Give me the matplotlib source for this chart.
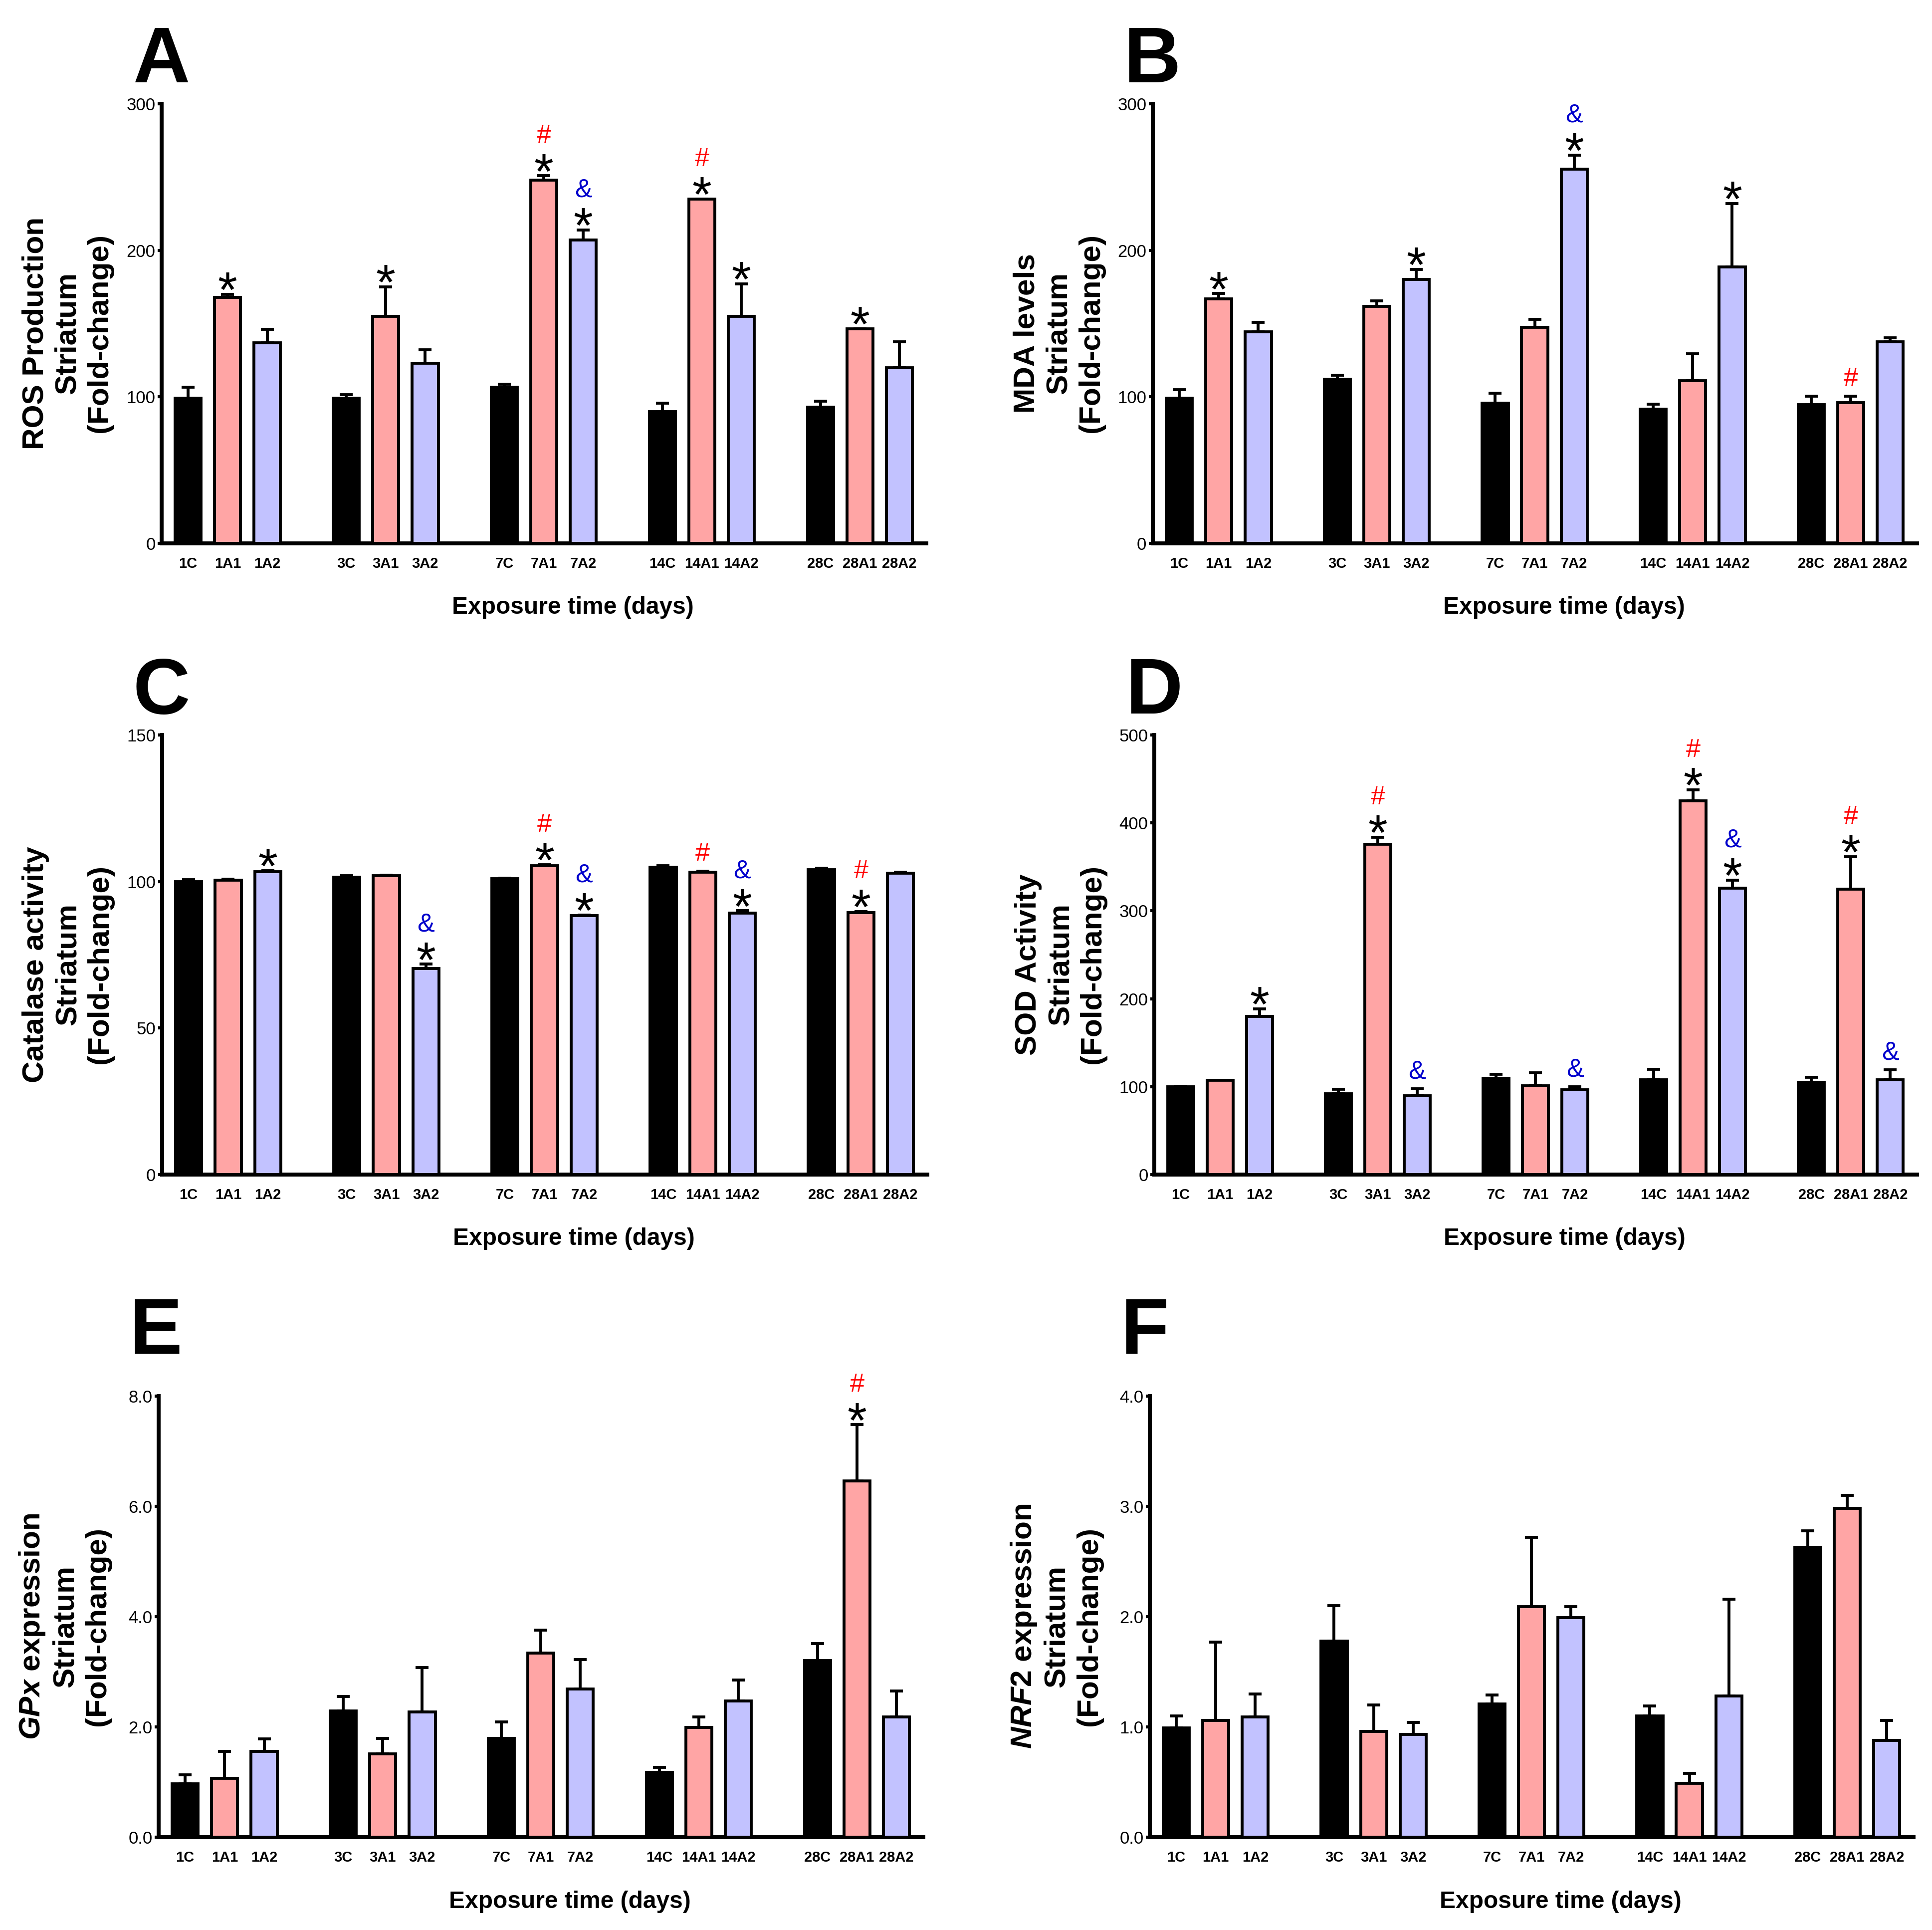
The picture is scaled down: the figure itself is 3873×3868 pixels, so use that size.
import matplotlib
matplotlib.use("Agg")
import matplotlib.pyplot as plt
import numpy as np

plt.rcParams['font.family'] = ['Liberation Sans', 'DejaVu Sans']
plt.rcParams['mathtext.fontset'] = 'custom'
plt.rcParams['mathtext.it'] = 'Liberation Sans:italic:bold'
plt.rcParams['mathtext.rm'] = 'Liberation Sans:bold'
plt.rcParams['mathtext.bf'] = 'Liberation Sans:bold'

# ---------------- data ----------------
bar_labels = ['1C', '1A1', '1A2', '3C', '3A1', '3A2', '7C', '7A1', '7A2',
              '14C', '14A1', '14A2', '28C', '28A1', '28A2']
bar_colors = ['#000000', '#FFA5A5', '#C2C2FF']

ros_mean = [99, 168, 137, 99, 155, 123, 106.6, 248, 207, 90, 235, 155, 93, 146.5, 120]
ros_sem = [7.6, 2, 9, 2.6, 20, 9, 2.1, 2.8, 7, 5.6, 0, 22, 4, 0, 17.7]
ros_sig = {'1A1': '*', '3A1': '*', '7A1': '*#', '7A2': '*&', '14A1': '*#', '14A2': '*', '28A1': '*'}

mda_mean = [99, 167, 144.5, 112, 161.7, 180, 95.6, 147.5, 255.5, 91.5, 111, 188.8, 94.8, 96, 137.7]
mda_sem = [6, 3.5, 6.3, 2.8, 3.9, 7, 6.9, 5.5, 9.5, 3.5, 18.5, 43.2, 5.7, 4.5, 2.7]
mda_sig = {'1A1': '*', '3A2': '*', '7A2': '*&', '14A2': '*', '28A1': '#'}

cat_mean = [100, 100.5, 103.3, 101.5, 102, 70.4, 101, 105.4, 88.4, 104.9, 103.2, 89.3, 104, 89.4, 102.9]
cat_sem = [0.7, 0.3, 0.4, 0.5, 0.2, 1.4, 0.2, 0.3, 0.2, 0.5, 0.4, 0.7, 0.6, 0.4, 0.2]
cat_sig = {'1A2': '*', '3A2': '*&', '7A1': '*#', '7A2': '*&', '14A1': '#', '14A2': '*&', '28A1': '*#'}

sod_mean = [100, 107.4, 179.8, 92.2, 375.6, 89.4, 109.7, 100.8, 96.5, 107.9, 425.3, 326, 105, 324.5, 107.9]
sod_sem = [0, 0, 8.9, 4.8, 8, 8, 4.3, 15.1, 3.3, 11.8, 12.3, 9, 5.7, 36.9, 11.3]
sod_sig = {'1A2': '*', '3A1': '*#', '3A2': '&', '7A2': '&', '14A1': '*#', '14A2': '*&', '28A1': '*#', '28A2': '&'}

gpx_mean = [0.97, 1.07, 1.56, 2.29, 1.51, 2.27, 1.79, 3.34, 2.69, 1.18, 1.99, 2.47, 3.20, 6.46, 2.18]
gpx_sem = [0.16, 0.49, 0.22, 0.26, 0.28, 0.81, 0.30, 0.42, 0.53, 0.09, 0.19, 0.38, 0.31, 1.02, 0.47]
gpx_sig = {'28A1': '*#'}

nrf_mean = [0.99, 1.06, 1.09, 1.78, 0.96, 0.93, 1.21, 2.09, 1.99, 1.10, 0.49, 1.28, 2.63, 2.98, 0.88]
nrf_sem = [0.11, 0.71, 0.21, 0.32, 0.24, 0.11, 0.08, 0.63, 0.10, 0.09, 0.09, 0.88, 0.15, 0.12, 0.18]
nrf_sig = {}

panel_letters = ['A', 'B', 'C', 'D', 'E', 'F']
y_titles = ['ROS Production\nStriatum\n(Fold-change)',
            'MDA levels\nStriatum\n(Fold-change)',
            'Catalase activity\nStriatum\n(Fold-change)',
            'SOD Activity\nStriatum\n(Fold-change)',
            '$\\mathit{GPx}$ expression\nStriatum\n(Fold-change)',
            '$\\mathit{NRF2}$ expression\nStriatum\n(Fold-change)']
y_ticks = [[0, 100, 200, 300], [0, 100, 200, 300], [0, 50, 100, 150],
           [0, 100, 200, 300, 400, 500], [0, 2, 4, 6, 8], [0, 1, 2, 3, 4]]
y_fmt = ['%d', '%d', '%d', '%d', '%.1f', '%.1f']
x_title = 'Exposure time (days)'

means = [ros_mean, mda_mean, cat_mean, sod_mean, gpx_mean, nrf_mean]
sems = [ros_sem, mda_sem, cat_sem, sod_sem, gpx_sem, nrf_sem]
sigs = [ros_sig, mda_sig, cat_sig, sod_sig, gpx_sig, nrf_sig]

# ---------------- layout (pixels) ----------------
W, H = 3873, 3868
fig = plt.figure(figsize=(W / 300, H / 300), dpi=300)
panel_x = [(324, 1857), (2311, 3843), (325, 1859), (2314, 3843), (318, 1851), (2305, 3836)]
rows = [(208, 1089), (1473, 2354), (2798, 3682)]
letter_gap = [43, 43, 85]

x = np.array([4 * (i // 3) + i % 3 for i in range(len(bar_labels))], dtype=float)
colors = [bar_colors[i % 3] for i in range(len(bar_labels))]

STAR_FS = 24
SYM_FS = 12.5


def put_marks(ax, xi, ytop, marks):
    off = 3.6  # points above the error-bar top
    for m in marks:
        if m == '*':
            ax.annotate('*', xy=(xi, ytop), xytext=(0, off - 0.40 * STAR_FS),
                        textcoords='offset points', ha='center', va='baseline',
                        fontsize=STAR_FS, fontweight='normal', color='black',
                        annotation_clip=False)
            off += 0.32 * STAR_FS + 4.6
        else:
            col = '#FF0000' if m == '#' else '#0000CC'
            if off == 3.6:
                off = 5.0
            ax.annotate(m, xy=(xi, ytop), xytext=(0, off),
                        textcoords='offset points', ha='center', va='baseline',
                        fontsize=SYM_FS, color=col, annotation_clip=False)
            off += 0.73 * SYM_FS + 4.6


for p in range(6):
    r = p // 2
    (l, rr), (t, b) = panel_x[p], rows[r]
    ax = fig.add_axes([l / W, 1 - b / H, (rr - l) / W, (b - t) / H])
    mu = np.array(means[p])
    se = np.array(sems[p])
    ax.errorbar(x, mu, yerr=[np.zeros_like(se), se], fmt='none', ecolor='black',
                elinewidth=1.4, capsize=3.1, capthick=1.4, zorder=2)
    ax.bar(x, mu, width=0.66, color=colors, edgecolor='black', linewidth=1.4, zorder=3)
    ax.set_xlim(-0.67, 18.68)
    ax.set_ylim(0, y_ticks[p][-1])
    for s in ['top', 'right']:
        ax.spines[s].set_visible(False)
    for s in ['left', 'bottom']:
        ax.spines[s].set_linewidth(1.9)
    ax.set_xticks(x)
    ax.set_xticklabels(bar_labels, fontsize=7, fontweight='bold')
    ax.tick_params(axis='x', length=0, pad=6.5)
    ax.set_yticks(y_ticks[p])
    ax.set_yticklabels([y_fmt[p] % v for v in y_ticks[p]], fontsize=8.3)
    ax.tick_params(axis='y', length=2, width=1.5, pad=1)
    ax.text(-0.123, 0.478, y_titles[p], rotation=90, ha='center', va='center',
            multialignment='center', fontsize=14.5, fontweight='bold',
            linespacing=1.22, transform=ax.transAxes)
    ax.text(0.538, -0.146, x_title, ha='center', va='center', fontsize=11.5,
            fontweight='bold', transform=ax.transAxes)
    ax.text(-0.038, 1 + letter_gap[r] / (b - t), panel_letters[p], ha='left',
            va='baseline', fontsize=38, fontweight='bold', transform=ax.transAxes)
    for i, lab in enumerate(bar_labels):
        if lab in sigs[p]:
            put_marks(ax, x[i], mu[i] + se[i], sigs[p][lab])

fig.savefig('out.png', dpi=300)
